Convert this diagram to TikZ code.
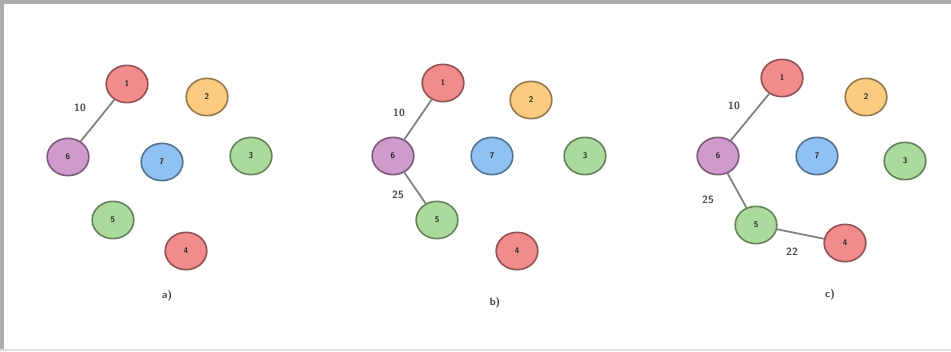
\documentclass[tikz,border=0pt]{standalone}
\usetikzlibrary{shapes.geometric}

\definecolor{vred}{HTML}{F28B8B}
\definecolor{vorange}{HTML}{FCCB80}
\definecolor{vgreen}{HTML}{ABDB9C}
\definecolor{vblue}{HTML}{8FC1F2}
\definecolor{vpurple}{HTML}{CF9ACC}

\tikzset{
    vertex/.style={draw, ellipse, line width=1.4pt, minimum width=1.25cm, minimum height=1.12cm, inner sep=0pt, font=\scriptsize\sffamily\bfseries, text=black!85},
    rednode/.style={vertex, fill=vred, draw=vred!60!black},
    orangenode/.style={vertex, fill=vorange, draw=vorange!60!black},
    greennode/.style={vertex, fill=vgreen, draw=vgreen!60!black},
    bluenode/.style={vertex, fill=vblue, draw=vblue!60!black},
    purplenode/.style={vertex, fill=vpurple, draw=vpurple!60!black},
    tree/.style={draw=gray, line width=1.5pt},
    weight/.style={font=\small\sffamily\bfseries, text=black!70},
    caption/.style={font=\small\sffamily\bfseries, text=black!75}
}

\begin{document}
\begin{tikzpicture}[x=0.03cm, y=-0.03cm]
    \useasboundingbox (0,0) rectangle (951,351);
    \draw[gray!65, line width=0.12cm] (0,2) -- (951,2);
    \draw[gray!65, line width=0.12cm] (2,0) -- (2,351);
    \draw[gray!25, line width=0.06cm] (0,349.5) -- (951,349.5);

    % a)
    \node[rednode] (a1) at (127,84) {1};
    \node[orangenode] (a2) at (207,97) {2};
    \node[greennode] (a3) at (251,156) {3};
    \node[rednode] (a4) at (186,251) {4};
    \node[greennode] (a5) at (113,220) {5};
    \node[purplenode] (a6) at (68,157) {6};
    \node[bluenode] (a7) at (162,162) {7};

    \draw[tree] (a1) -- (a6);
    \node[weight] (wa16) at (80,108) {10};
    \node[caption] (capa) at (167,296) {a)};

    % b)
    \node[rednode] (b1) at (443,83) {1};
    \node[orangenode] (b2) at (531,100) {2};
    \node[greennode] (b3) at (585,156) {3};
    \node[rednode] (b4) at (517,251) {4};
    \node[greennode] (b5) at (437,220) {5};
    \node[purplenode] (b6) at (393,156) {6};
    \node[bluenode] (b7) at (492,156) {7};

    \draw[tree] (b1) -- (b6);
    \draw[tree] (b6) -- (b5);
    \node[weight] (wb16) at (399,113) {10};
    \node[weight] (wb65) at (398,195) {25};
    \node[caption] (capb) at (495,303) {b)};

    % c)
    \node[rednode] (c1) at (782,78) {1};
    \node[orangenode] (c2) at (866,97) {2};
    \node[greennode] (c3) at (905,161) {3};
    \node[rednode] (c4) at (845,243) {4};
    \node[greennode] (c5) at (756,225) {5};
    \node[purplenode] (c6) at (718,156) {6};
    \node[bluenode] (c7) at (817,156) {7};

    \draw[tree] (c1) -- (c6);
    \draw[tree] (c6) -- (c5);
    \draw[tree] (c5) -- (c4);
    \node[weight] (wc16) at (734,106) {10};
    \node[weight] (wc65) at (708,200) {25};
    \node[weight] (wc54) at (792,252) {22};
    \node[caption] (capc) at (830,295) {c)};
\end{tikzpicture}
\end{document}
